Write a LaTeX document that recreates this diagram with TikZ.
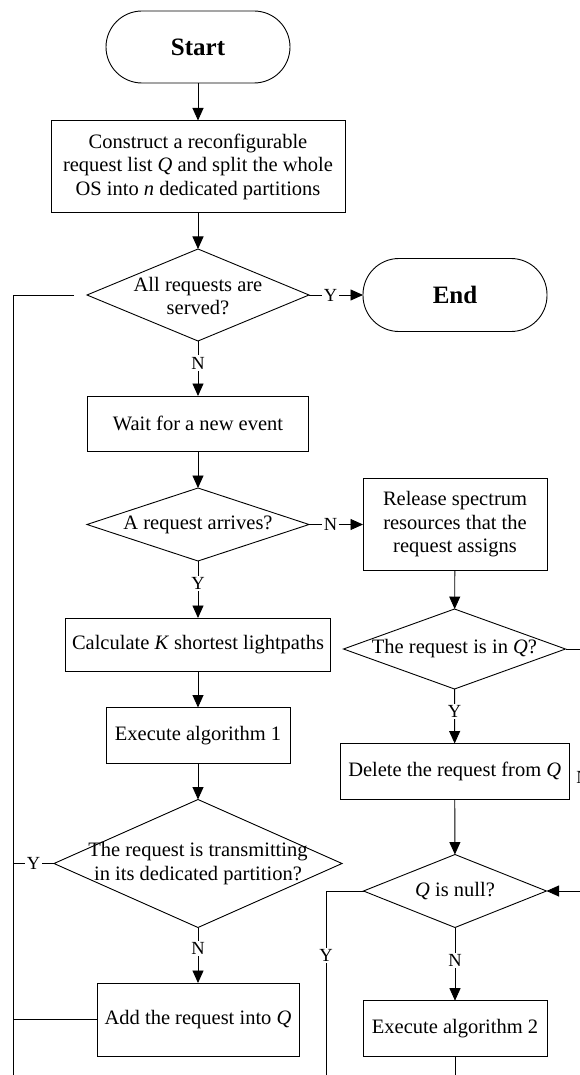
\documentclass[tikz,border=0pt]{standalone}
\usepackage{fontspec}
\setmainfont{Liberation Serif}
\usetikzlibrary{shapes.geometric,arrows.meta}
\begin{document}
\begin{tikzpicture}[x=1pt,y=-1pt,
  every node/.style={font=\fontsize{20.5}{23.5}\selectfont},
  line/.style={line width=0.9pt, draw=black},
  arr/.style={line, -{Triangle[length=12.5pt,width=11pt]}},
  proc/.style={draw, line width=0.9pt, rectangle, inner sep=0pt, outer sep=0pt, align=center},
  term/.style={draw, line width=0.9pt, rectangle, rounded corners=36pt, inner sep=0pt, outer sep=0pt, font=\fontsize{25}{30}\selectfont\bfseries},
  dia/.style={draw, line width=0.9pt, diamond, inner sep=0pt, outer sep=0pt},
  dtext/.style={align=center, inner sep=0pt},
  lbl/.style={fill=white, inner sep=1.5pt, font=\fontsize{18.5}{20}\selectfont}]
\useasboundingbox (0,0) rectangle (580,1075);
\clip (0,0) rectangle (580,1075);

% left column
\node[term, minimum width=184pt, minimum height=72pt] (start) at (198,47) {Start};
\node[proc, minimum width=294pt, minimum height=92pt] (init) at (198,166.5) {Construct a reconfigurable\\request list \textit{Q} and split the whole\\OS into \textit{n} dedicated partitions};
\node[dia, minimum width=222pt, minimum height=92pt] (d1) at (198,295) {};
\node[dtext] (t1) at (198,296) {All requests are\\served?};
\node[term, minimum width=184pt, minimum height=73pt] (end) at (455,295) {End};
\node[proc, minimum width=221pt, minimum height=55pt] (wait) at (198,423.5) {Wait for a new event};
\node[dia, minimum width=222pt, minimum height=73pt] (d2) at (198,524.5) {};
\node[dtext] (t2) at (198,524.5) {A request arrives?};
\node[proc, minimum width=265pt, minimum height=53pt] (calc) at (198,644.5) {Calculate \textit{K} shortest lightpaths};
\node[proc, minimum width=184pt, minimum height=56pt] (ex1) at (198,735.5) {Execute algorithm 1};
\node[dia, minimum width=288pt, minimum height=128pt] (d3) at (198,863.5) {};
\node[dtext] (t3) at (198,863.5) {The request is transmitting\\in its dedicated partition?};
\node[proc, minimum width=202pt, minimum height=73pt] (add) at (198,1019.5) {Add the request into \textit{Q}};

% right column
\node[proc, minimum width=184pt, minimum height=92pt] (rel) at (455,524.5) {Release spectrum\\resources that the\\request assigns};
\node[dia, minimum width=222pt, minimum height=80pt] (d4) at (454.5,649) {};
\node[dtext] (t4) at (454.5,649) {The request is in \textit{Q}?};
\node[proc, minimum width=229pt, minimum height=56pt] (del) at (454.7,771.5) {Delete the request from \textit{Q}};
\node[dia, minimum width=183pt, minimum height=73pt] (d5) at (455,891) {};
\node[dtext] (t5) at (455,891) {\textit{Q} is null?};
\node[proc, minimum width=184pt, minimum height=56pt] (ex2) at (455,1028.7) {Execute algorithm 2};

% helper coordinates
\coordinate (lx) at (13.3,1075);
\coordinate (rx) at (583,649);
\coordinate (yl) at (326,1075);

% main flow
\draw[arr] (start) -- (init);
\draw[arr] (init) -- (d1);
\draw[arr] (d1) -- node[lbl,pos=0.4]{Y} (end);
\draw[arr] (d1) -- node[lbl,pos=0.4]{N} (wait);
\draw[arr] (wait) -- (d2);
\draw[arr] (d2) -- node[lbl,pos=0.4]{N} (rel);
\draw[arr] (d2) -- node[lbl,pos=0.4]{Y} (calc);
\draw[arr] (calc) -- (ex1);
\draw[arr] (ex1) -- (d3);
\draw[arr] (d3) -- node[lbl,pos=0.38]{N} (add);
\draw[arr] (rel) -- (d4);
\draw[arr] (d4) -- node[lbl,pos=0.42]{Y} (del);
\draw[arr] (del) -- (d5);
\draw[arr] (d5) -- node[lbl,pos=0.45]{N} (ex2);

% loop on the left
\draw[line] (add.west) -- (add.west -| lx);
\draw[line] (d3.west) -- node[lbl]{Y} (d3.west -| lx);
\draw[line] ([xshift=-13pt]d1.west) -- (d1.west -| lx) -- (lx);

% right side
\draw[arr] (d4.east) -- (rx) -- node[lbl,pos=0.53]{N} (rx |- d5.east) -- (d5.east);
\draw[line] (d5.west) -- (d5.west -| yl) -- node[lbl,pos=0.35]{Y} (yl);
\draw[line] (ex2.south) -- (ex2.south |- yl);
\end{tikzpicture}
\end{document}
